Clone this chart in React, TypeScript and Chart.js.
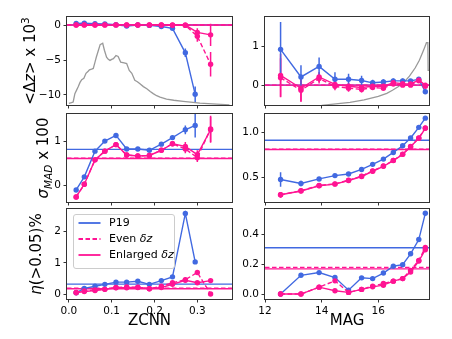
import React, { useEffect, useRef } from "react";
import { Chart, registerables } from "chart.js";
Chart.register(...registerables);

const BLUE = "#4169E1";
const PINK = "#FF1493";
const HIST = "rgba(128,128,128,0.8)";
const FONT = "'DejaVu Sans', sans-serif";
const AXIS = "#333";

// ---------- categories (bin centres) ----------
const zcnnBins = [0.017, 0.036, 0.061, 0.084, 0.110, 0.135, 0.161, 0.188, 0.216, 0.242, 0.272, 0.300, 0.331];
const zcnnBinsP19 = [0.017, 0.036, 0.061, 0.084, 0.110, 0.135, 0.161, 0.188, 0.216, 0.242, 0.272, 0.295];
const magBins = [12.55, 13.27, 13.91, 14.47, 14.95, 15.41, 15.80, 16.18, 16.53, 16.86, 17.14, 17.43, 17.66];

// ---------- tick labels ----------
const zcnnTicks = [0, 0.1, 0.2, 0.3];
const magTicks = [12, 14, 16];
const dzZcnnTicks = [-10, -5, 0];
const dzMagTicks = [0, 1];
const sigZcnnTicks = [0, 1];
const sigMagTicks = [0.5, 1.0];
const etaZcnnTicks = [0, 1, 2];
const etaMagTicks = [0.0, 0.2, 0.4];

// ---------- <dz> x 10^3 vs ZCNN ----------
const dzZcnnP19 = [0.24, 0.28, 0.2, 0.14, 0.05, -0.14, 0.0, -0.05, -0.2, -0.47, -3.97, -9.9];
const dzZcnnP19Err = [0.08, 0.08, 0.08, 0.08, 0.08, 0.08, 0.08, 0.1, 0.1, 0.15, 0.6, 1.1];
const dzZcnnEven = [0.0, 0.02, 0.0, 0.0, 0.02, 0.0, 0.0, 0.0, 0.0, -0.02, -0.05, -1.6, -5.6];
const dzZcnnEvenErr = [0.05, 0.05, 0.05, 0.05, 0.05, 0.05, 0.05, 0.05, 0.08, 0.1, 0.3, 0.8, 1.75];
const dzZcnnEnl = [0.0, 0.0, 0.0, 0.02, 0.02, 0.0, 0.0, 0.0, 0.0, 0.0, 0.0, -1.05, -1.4];
const dzZcnnEnlErr = [0.05, 0.05, 0.05, 0.05, 0.05, 0.05, 0.05, 0.05, 0.08, 0.1, 0.25, 0.6, 1.6];
const histZcnnX = [0.0, 0.006, 0.010, 0.014, 0.018, 0.022, 0.026, 0.030, 0.035, 0.040, 0.045, 0.048, 0.053, 0.057, 0.061, 0.064, 0.069, 0.073, 0.079, 0.083, 0.088, 0.092, 0.096, 0.100, 0.104, 0.110, 0.115, 0.121, 0.129, 0.135, 0.141, 0.147, 0.154, 0.160, 0.166, 0.174, 0.182, 0.190, 0.197, 0.205, 0.213, 0.228, 0.245, 0.267, 0.290, 0.306, 0.345, 0.375];
const histZcnnY = [-11.2, -11.1, -11.0, -9.8, -9.3, -8.8, -8.2, -7.8, -7.6, -6.9, -6.6, -6.4, -6.3, -6.2, -5.3, -4.6, -3.6, -2.8, -2.6, -3.6, -4.6, -4.9, -5.05, -4.9, -4.8, -4.35, -4.5, -5.3, -5.4, -5.5, -6.5, -6.9, -7.9, -8.1, -8.4, -8.8, -9.1, -9.5, -9.8, -10.1, -10.3, -10.6, -10.75, -10.9, -11.05, -11.15, -11.3, -11.4];

// ---------- <dz> x 10^3 vs MAG ----------
const dzMagP19 = [0.92, 0.21, 0.48, 0.15, 0.15, 0.12, 0.06, 0.08, 0.11, 0.11, 0.11, 0.15, -0.17];
const dzMagP19Err = [0.7, 0.3, 0.23, 0.18, 0.14, 0.12, 0.08, 0.07, 0.06, 0.06, 0.05, 0.05, 0.06];
const dzMagEven = [0.19, -0.13, 0.17, -0.03, -0.08, -0.11, -0.06, -0.08, 0.03, 0.0, 0.0, 0.11, -0.03];
const dzMagEvenErr = [0.5, 0.3, 0.13, 0.1, 0.09, 0.08, 0.06, 0.05, 0.05, 0.04, 0.04, 0.04, 0.04];
const dzMagEnl = [0.25, -0.08, 0.21, 0.02, -0.03, -0.06, -0.03, -0.03, 0.06, 0.04, 0.03, 0.13, 0.0];
const dzMagEnlErr = [0.55, 0.33, 0.13, 0.1, 0.09, 0.08, 0.06, 0.05, 0.05, 0.04, 0.04, 0.04, 0.04];
const histMagX = [12.0, 13.0, 14.0, 14.5, 15.0, 15.5, 16.0, 16.3, 16.5, 16.7, 16.9, 17.1, 17.3, 17.45, 17.6, 17.7, 17.75, 17.76, 17.8];
const histMagY = [-0.56, -0.55, -0.52, -0.48, -0.44, -0.38, -0.29, -0.21, -0.13, -0.04, 0.07, 0.23, 0.44, 0.64, 0.9, 1.09, 1.09, 0.38, 0.38];

// ---------- sigma_MAD x 100 ----------
const sigZcnnP19 = [-0.11, 0.19, 0.78, 1.01, 1.14, 0.83, 0.83, 0.80, 0.94, 1.09, 1.27, 1.37];
const sigZcnnP19Err = [0.02, 0.02, 0.02, 0.02, 0.02, 0.02, 0.02, 0.02, 0.03, 0.04, 0.1, 0.28];
const sigZcnnEven = [-0.27, 0.02, 0.58, 0.78, 0.93, 0.69, 0.67, 0.68, 0.80, 0.95, 0.83, 0.63, 1.29];
const sigZcnnEvenErr = [0.02, 0.02, 0.02, 0.02, 0.02, 0.02, 0.02, 0.02, 0.03, 0.04, 0.1, 0.1, 0.3];
const sigZcnnEnl = [-0.27, 0.02, 0.58, 0.78, 0.93, 0.69, 0.67, 0.68, 0.80, 0.95, 0.89, 0.70, 1.27];
const sigZcnnEnlErr = [0.02, 0.02, 0.02, 0.02, 0.02, 0.02, 0.02, 0.02, 0.03, 0.04, 0.1, 0.1, 0.3];
const sigMagP19 = [0.479, 0.435, 0.485, 0.522, 0.54, 0.59, 0.646, 0.704, 0.778, 0.851, 0.938, 1.055, 1.157];
const sigMagP19Err = [0.08, 0.03, 0.01, 0.01, 0.01, 0.01, 0.01, 0.01, 0.01, 0.01, 0.01, 0.01, 0.01];
const sigMagEven = [0.31, 0.354, 0.413, 0.43, 0.471, 0.515, 0.573, 0.628, 0.69, 0.759, 0.843, 0.938, 1.048];
const sigMagEnl = [0.31, 0.352, 0.41, 0.428, 0.468, 0.512, 0.57, 0.625, 0.688, 0.757, 0.84, 0.935, 1.045];
const sigMagPinkErr = [0.03, 0.02, 0.01, 0.01, 0.01, 0.01, 0.01, 0.01, 0.01, 0.01, 0.01, 0.01, 0.01];

// ---------- eta(>0.05)% ----------
const etaZcnnP19 = [0.04, 0.18, 0.25, 0.31, 0.38, 0.38, 0.41, 0.31, 0.43, 0.55, 2.58, 1.03];
const etaZcnnEven = [0.04, 0.10, 0.13, 0.15, 0.21, 0.23, 0.21, 0.17, 0.25, 0.36, 0.46, 0.69, 0.0];
const etaZcnnEnl = [0.05, 0.08, 0.11, 0.15, 0.20, 0.20, 0.22, 0.17, 0.21, 0.31, 0.44, 0.36, 0.43];
const etaMagP19 = [0.0, 0.125, 0.143, 0.11, 0.026, 0.108, 0.103, 0.14, 0.185, 0.196, 0.268, 0.363, 0.538];
const etaMagEven = [0.0, 0.0, 0.046, 0.088, 0.011, 0.031, 0.053, 0.07, 0.086, 0.103, 0.158, 0.224, 0.31];
const etaMagEnl = [0.0, 0.0, 0.046, 0.022, 0.011, 0.031, 0.048, 0.059, 0.086, 0.103, 0.147, 0.22, 0.295];

// ---------- overall reference values (horizontal lines): [P19, Even, Enlarged] ----------
const dzZcnnMeans = [0.0, 0.0, 0.0];
const dzMagMeans = [0.0, 0.0, 0.0];
const sigZcnnMeans = [0.82, 0.62, 0.61];
const sigMagMeans = [0.912, 0.814, 0.81];
const etaZcnnMeans = [0.317, 0.19, 0.17];
const etaMagMeans = [0.308, 0.178, 0.168];

// ---------- layout ----------
const COLS = [{ L: 67, R: 232 }, { L: 265, R: 429 }];
const ROWS = [{ T: 16, B: 105 }, { T: 113, B: 202 }, { T: 208, B: 299 }];
const AX_W = 45, AX_H = 24, PAD_T = 8, PAD_R = 8;

const fmt = (v: number, dec: number) => (v < 0 ? "\u2212" : "") + Math.abs(v).toFixed(dec);

function series(xs: number[], ys: number[]) {
  return ys.map((y, i) => ({ x: xs[i], y }));
}

function ds(kind: "p19" | "even" | "enl", xs: number[], ys: number[], errs?: number[]) {
  const color = kind === "p19" ? BLUE : PINK;
  return {
    label: kind,
    data: series(xs, ys),
    errors: errs,
    showLine: true,
    borderColor: color,
    backgroundColor: color,
    pointBackgroundColor: color,
    pointBorderWidth: 0,
    pointRadius: 2.7,
    borderWidth: 1.4,
    borderDash: kind === "even" ? [4.5, 2.5] : [],
    order: kind === "enl" ? 0 : kind === "even" ? 1 : 2,
  };
}

function hist(xs: number[], ys: number[]) {
  return {
    label: "hist",
    data: series(xs, ys),
    showLine: true,
    borderColor: HIST,
    borderWidth: 1.3,
    pointRadius: 0,
    order: 5,
  };
}

type HLine = { value: number; color: string; dash: number[] };
function hl(means: number[]): HLine[] {
  return [
    { value: means[0], color: BLUE, dash: [] },
    { value: means[1], color: PINK, dash: [4.5, 2.5] },
    { value: means[2], color: PINK, dash: [] },
  ];
}

function makeDecor(hlines: HLine[], errs: (number[] | undefined)[]) {
  return {
    id: "decor",
    beforeDatasetsDraw(chart: any) {
      const { ctx, chartArea: a, scales } = chart;
      ctx.save();
      ctx.beginPath();
      ctx.rect(a.left, a.top, a.right - a.left, a.bottom - a.top);
      ctx.clip();
      hlines.forEach((h) => {
        const y = scales.y.getPixelForValue(h.value);
        ctx.strokeStyle = h.color;
        ctx.lineWidth = 1.4;
        ctx.setLineDash(h.dash);
        ctx.beginPath();
        ctx.moveTo(a.left, y);
        ctx.lineTo(a.right, y);
        ctx.stroke();
      });
      ctx.setLineDash([]);
      chart.data.datasets.forEach((d: any, i: number) => {
        const e = errs[i];
        if (!e) return;
        ctx.strokeStyle = d.borderColor;
        ctx.lineWidth = 1.5;
        d.data.forEach((p: any, j: number) => {
          const v = e[j];
          if (!v) return;
          const x = scales.x.getPixelForValue(p.x);
          ctx.beginPath();
          ctx.moveTo(x, scales.y.getPixelForValue(p.y - v));
          ctx.lineTo(x, scales.y.getPixelForValue(p.y + v));
          ctx.stroke();
        });
      });
      ctx.restore();
    },
    afterDraw(chart: any) {
      const { ctx, chartArea: a } = chart;
      ctx.save();
      ctx.strokeStyle = AXIS;
      ctx.lineWidth = 1;
      const l = Math.round(a.left) - 0.5, t = Math.round(a.top) - 0.5;
      const r = Math.round(a.right) + 0.5, b = Math.round(a.bottom) + 0.5;
      ctx.strokeRect(l, t, r - l, b - t);
      ctx.restore();
    },
  };
}

type Panel = {
  row: number; col: number;
  xMin: number; xMax: number; yMin: number; yMax: number;
  xTicks: number[]; xDec: number; showX: boolean;
  yTicks: number[]; yDec: number;
  datasets: any[]; hlines: HLine[];
};

const panels: Panel[] = [
  {
    row: 0, col: 0, xMin: -0.0044, xMax: 0.381, yMin: -11.43, yMax: 1.18,
    xTicks: zcnnTicks, xDec: 1, showX: false, yTicks: dzZcnnTicks, yDec: 0,
    datasets: [
      ds("enl", zcnnBins, dzZcnnEnl, dzZcnnEnlErr),
      ds("even", zcnnBins, dzZcnnEven, dzZcnnEvenErr),
      ds("p19", zcnnBinsP19, dzZcnnP19, dzZcnnP19Err),
      hist(histZcnnX, histZcnnY),
    ],
    hlines: hl(dzZcnnMeans),
  },
  {
    row: 0, col: 1, xMin: 12, xMax: 17.79, yMin: -0.51, yMax: 1.756,
    xTicks: magTicks, xDec: 0, showX: false, yTicks: dzMagTicks, yDec: 0,
    datasets: [
      ds("enl", magBins, dzMagEnl, dzMagEnlErr),
      ds("even", magBins, dzMagEven, dzMagEvenErr),
      ds("p19", magBins, dzMagP19, dzMagP19Err),
      hist(histMagX, histMagY),
    ],
    hlines: hl(dzMagMeans),
  },
  {
    row: 1, col: 0, xMin: -0.0044, xMax: 0.381, yMin: -0.386, yMax: 1.636,
    xTicks: zcnnTicks, xDec: 1, showX: false, yTicks: sigZcnnTicks, yDec: 0,
    datasets: [
      ds("enl", zcnnBins, sigZcnnEnl, sigZcnnEnlErr),
      ds("even", zcnnBins, sigZcnnEven, sigZcnnEvenErr),
      ds("p19", zcnnBinsP19, sigZcnnP19, sigZcnnP19Err),
    ],
    hlines: hl(sigZcnnMeans),
  },
  {
    row: 1, col: 1, xMin: 12, xMax: 17.79, yMin: 0.23, yMax: 1.205,
    xTicks: magTicks, xDec: 0, showX: false, yTicks: sigMagTicks, yDec: 1,
    datasets: [
      ds("enl", magBins, sigMagEnl, sigMagPinkErr),
      ds("even", magBins, sigMagEven, sigMagPinkErr),
      ds("p19", magBins, sigMagP19, sigMagP19Err),
    ],
    hlines: hl(sigMagMeans),
  },
  {
    row: 2, col: 0, xMin: -0.0044, xMax: 0.381, yMin: -0.159, yMax: 2.73,
    xTicks: zcnnTicks, xDec: 1, showX: true, yTicks: etaZcnnTicks, yDec: 0,
    datasets: [
      ds("enl", zcnnBins, etaZcnnEnl),
      ds("even", zcnnBins, etaZcnnEven),
      ds("p19", zcnnBinsP19, etaZcnnP19),
    ],
    hlines: hl(etaZcnnMeans),
  },
  {
    row: 2, col: 1, xMin: 12, xMax: 17.79, yMin: -0.033, yMax: 0.568,
    xTicks: magTicks, xDec: 0, showX: true, yTicks: etaMagTicks, yDec: 1,
    datasets: [
      ds("enl", magBins, etaMagEnl),
      ds("even", magBins, etaMagEven),
      ds("p19", magBins, etaMagP19),
    ],
    hlines: hl(etaMagMeans),
  },
];

function geom(p: Panel) {
  const c = COLS[p.col], r = ROWS[p.row];
  return {
    left: c.L - AX_W,
    top: r.T - PAD_T,
    width: c.R - c.L + AX_W + PAD_R,
    height: r.B - r.T + PAD_T + AX_H,
  };
}

function makeConfig(p: Panel): any {
  const tickFont = { family: FONT, size: 10.5 };
  const errs = p.datasets.map((d: any) => d.errors);
  const datasets = p.datasets.map((d: any) => {
    const { errors, ...rest } = d;
    return rest;
  });
  return {
    type: "scatter",
    data: { datasets },
    options: {
      animation: false,
      responsive: false,
      devicePixelRatio: 1,
      layout: { padding: { left: 0, top: PAD_T, right: PAD_R, bottom: 0 }, autoPadding: false },
      plugins: { legend: { display: false }, tooltip: { enabled: false } },
      scales: {
        x: {
          type: "linear", position: "bottom", min: p.xMin, max: p.xMax,
          afterBuildTicks: (s: any) => { s.ticks = p.xTicks.map((v) => ({ value: v })); },
          afterFit: (s: any) => { s.height = AX_H; },
          ticks: {
            callback: (v: any) => (p.showX ? fmt(Number(v), p.xDec) : ""),
            font: tickFont, color: "#000", padding: 2, maxRotation: 0, autoSkip: false,
          },
          grid: { drawOnChartArea: false, drawTicks: true, tickLength: 3.5, color: AXIS, lineWidth: 1 },
          border: { display: false },
        },
        y: {
          type: "linear", position: "left", min: p.yMin, max: p.yMax,
          afterBuildTicks: (s: any) => { s.ticks = p.yTicks.map((v) => ({ value: v })); },
          afterFit: (s: any) => { s.width = AX_W; },
          ticks: {
            callback: (v: any) => fmt(Number(v), p.yDec),
            font: tickFont, color: "#000", padding: 2.5, autoSkip: false,
          },
          grid: { drawOnChartArea: false, drawTicks: true, tickLength: 3.5, color: AXIS, lineWidth: 1 },
          border: { display: false },
        },
      },
    },
    plugins: [makeDecor(p.hlines, errs)],
  };
}

function PanelChart({ p }: { p: Panel }) {
  const ref = useRef<HTMLCanvasElement | null>(null);
  const g = geom(p);
  useEffect(() => {
    if (!ref.current) return;
    const chart = new Chart(ref.current, makeConfig(p));
    return () => chart.destroy();
  }, []);
  return (
    <canvas
      ref={ref}
      width={g.width}
      height={g.height}
      style={{ position: "absolute", left: g.left, top: g.top, width: g.width, height: g.height }}
    />
  );
}

const yTitle = (cx: number, cy: number): React.CSSProperties => ({
  position: "absolute", left: cx - 100, top: cy - 10, width: 200, height: 20, lineHeight: "20px",
  textAlign: "center", transform: "rotate(-90deg)", fontFamily: FONT, fontSize: 15,
  whiteSpace: "nowrap", color: "#000",
});
const xTitle = (cx: number, capCy: number): React.CSSProperties => ({
  position: "absolute", left: cx - 60, top: capCy - 9.7, width: 120, height: 20, lineHeight: "20px",
  textAlign: "center", fontFamily: FONT, fontSize: 15, whiteSpace: "nowrap", color: "#000",
});
const small: React.CSSProperties = { fontSize: 10.5, lineHeight: 0 };

function LegendRow({ top, color, dash, children }: any) {
  return (
    <div style={{ position: "absolute", left: 0, top: top - 7, width: 102, height: 14 }}>
      <svg width={26} height={14} style={{ position: "absolute", left: 4, top: 0 }}>
        <line x1={0.5} y1={7} x2={22.5} y2={7} stroke={color} strokeWidth={1.8} strokeDasharray={dash} />
      </svg>
      <div style={{ position: "absolute", left: 35.5, top: 0, height: 14, lineHeight: "14px", fontSize: 11, whiteSpace: "nowrap" }}>
        {children}
      </div>
    </div>
  );
}

export default function App() {
  return (
    <div style={{ position: "absolute", left: 0, top: 0, width: 452, height: 339, background: "#fff", overflow: "hidden", fontFamily: FONT }}>
      {panels.map((p, i) => (
        <PanelChart key={i} p={p} />
      ))}
      <div style={yTitle(30, 60.5)}>
        &lt;Δ<i>z</i>&gt; x 10<sup style={small}>3</sup>
      </div>
      <div style={yTitle(42.5, 157.5)}>
        <i>σ</i><sub style={small}><i>MAD</i></sub> x 100
      </div>
      <div style={yTitle(36, 253.5)}>
        <i>η</i>(&gt;0.05)%
      </div>
      <div style={xTitle(149.5, 319.5)}>ZCNN</div>
      <div style={xTitle(347, 319.5)}>MAG</div>
      <div
        style={{
          position: "absolute", left: 72.5, top: 214, width: 102.5, height: 55, boxSizing: "border-box",
          border: "1px solid #ccc", borderRadius: 3, background: "rgba(255,255,255,0.8)", fontFamily: FONT, color: "#000",
        }}
      >
        <LegendRow top={8.2} color={BLUE}>P19</LegendRow>
        <LegendRow top={23.8} color={PINK} dash="4.5 2.5">Even <i>δz</i></LegendRow>
        <LegendRow top={39.5} color={PINK}>Enlarged <i>δz</i></LegendRow>
      </div>
    </div>
  );
}
